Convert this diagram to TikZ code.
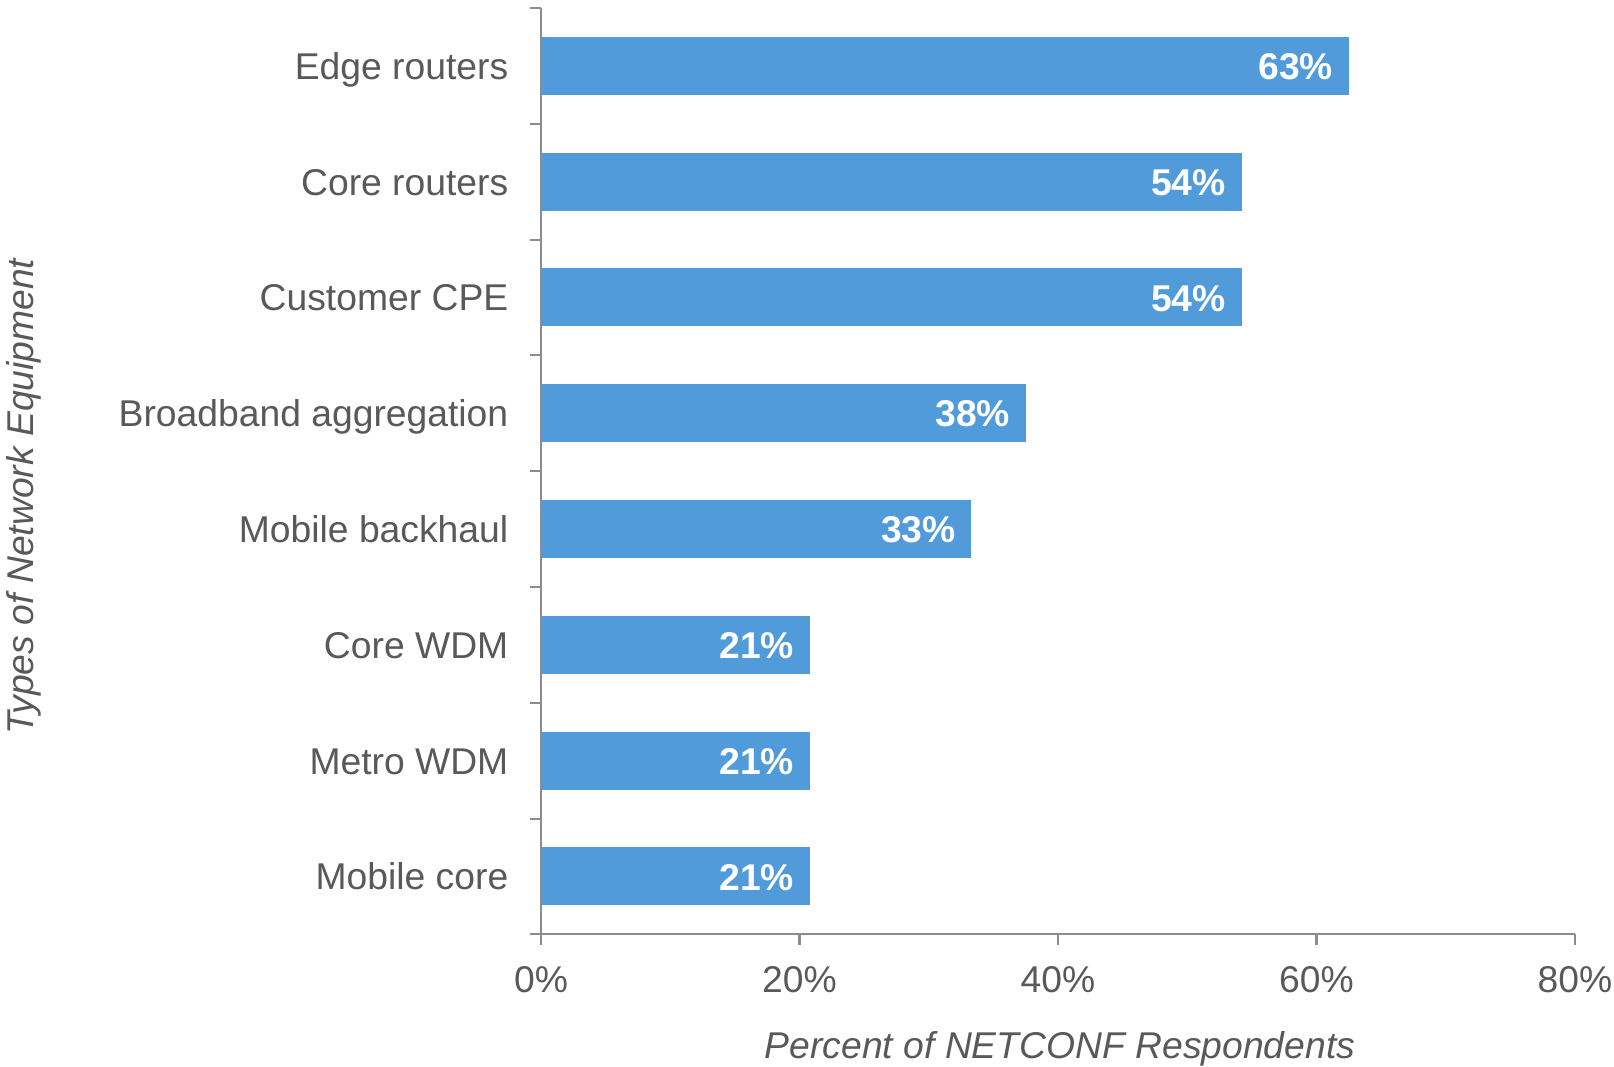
\documentclass[tikz,border=0pt]{standalone}
\usepackage{fontspec}
\setmainfont{Liberation Sans}
\definecolor{barblue}{HTML}{519BDB}
\definecolor{textgray}{HTML}{595959}
\definecolor{axisgray}{HTML}{8C8C8C}
\begin{document}
\begin{tikzpicture}[x=0.01cm,y=-0.01cm,
        catlabel/.style={anchor=base east,inner sep=0pt,text=textgray,font=\fontsize{10.6}{12}\selectfont},
        vallabel/.style={anchor=base east,inner sep=0pt,text=white,font=\fontsize{10.6}{12}\selectfont\bfseries},
        ticklabel/.style={anchor=base,inner sep=0pt,text=textgray,font=\fontsize{10.6}{12}\selectfont},
        axistitle/.style={anchor=base,inner sep=0pt,text=textgray,font=\fontsize{10.6}{12}\selectfont\itshape},
        axisline/.style={draw=axisgray,line width=0.6pt}]
        \useasboundingbox (0,0) rectangle (1614,1067);
        % bars
        \foreach \i/\name/\val/\txt in {0/Edge routers/62.5/63, 1/Core routers/54.2/54, 2/Customer CPE/54.2/54,
            3/Broadband aggregation/37.5/38, 4/Mobile backhaul/33.3/33, 5/Core WDM/20.8/21,
            6/Metro WDM/20.8/21, 7/Mobile core/20.8/21} {
            \pgfmathsetmacro{\yc}{8+115.8*(\i+0.5)}
            \pgfmathsetmacro{\xe}{541+12.925*\val}
            \fill[barblue] (541,\yc-29) rectangle (\xe,\yc+29);
            \node[catlabel] (cat\i) at (509,\yc+13.4) {\name};
            \node[vallabel] (val\i) at (\xe-15,\yc+13.6) {\txt\%};
        }
        % axes
        \draw[axisline] (541,8) -- (541,934) -- (1575,934);
        \foreach \k in {0,...,8}
            \draw[axisline] (530,8+115.8*\k) -- (541,8+115.8*\k);
        \foreach \p in {0,20,40,60,80} {
            \draw[axisline] (541+12.925*\p,934) -- (541+12.925*\p,945);
            \node[ticklabel] (tick\p) at (541+12.925*\p,992.7) {\p\%};
        }
        \node[axistitle] (xtitle) at (1060,1058) {Percent of NETCONF Respondents};
        \node[axistitle,rotate=90] (ytitle) at (34,496.5) {Types of Network Equipment};
    \end{tikzpicture}
\end{document}
